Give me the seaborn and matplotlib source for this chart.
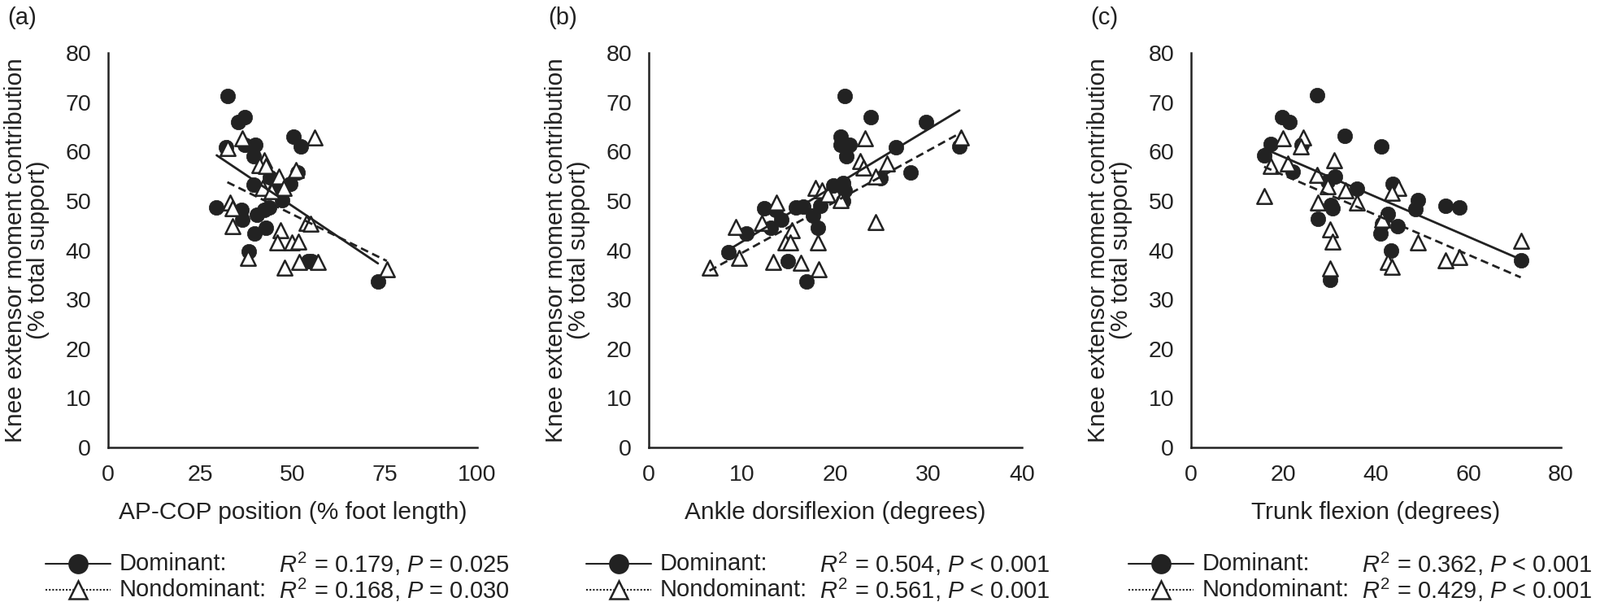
import numpy as np
import pandas as pd
import matplotlib.pyplot as plt
import seaborn as sns
from matplotlib.lines import Line2D

# (a) AP-COP position (% foot length)
cop_dom_x = [32.3, 36.9, 35.3, 32.0, 36.9, 39.9, 39.5, 50.2, 52.3, 51.3, 49.4, 43.9, 39.5, 45.2,
             47.2, 43.7, 42.4, 29.4, 36.2, 36.3, 40.2, 42.8, 39.7, 38.2, 54.2, 55.0, 73.1]
cop_dom_y = [71.3, 67.0, 65.9, 60.9, 61.3, 61.3, 59.0, 63.0, 61.0, 55.8, 53.5, 54.7, 53.2, 52.2,
             50.2, 48.7, 48.2, 48.6, 48.2, 46.2, 47.2, 44.6, 43.3, 39.8, 37.7, 37.7, 33.7]
cop_nd_x = [36.3, 55.9, 32.3, 42.3, 40.9, 42.8, 46.3, 50.9, 41.9, 47.6, 44.3, 33.1, 33.8,
            33.8, 53.7, 54.8, 46.6, 45.9, 49.7, 51.5, 37.8, 47.8, 51.8, 56.8, 75.5]
cop_nd_y = [62.6, 62.9, 60.7, 58.2, 57.3, 57.0, 55.0, 56.2, 52.7, 52.7, 51.9, 49.7, 48.5,
            44.9, 45.5, 45.3, 44.0, 41.6, 41.6, 41.7, 38.5, 36.5, 37.6, 37.6, 36.2]

# (b) ankle dorsiflexion (degrees)
ank_dom_x = [21.0, 23.8, 29.7, 20.6, 20.6, 21.5, 21.2, 26.5, 33.3, 28.1, 24.8, 19.8, 20.8, 21.0,
             20.8, 18.4, 16.6, 15.8, 12.4, 13.6, 14.2, 17.6, 13.1, 18.1, 10.5, 8.5, 14.9, 16.9]
ank_dom_y = [71.3, 67.0, 65.9, 63.0, 61.3, 61.3, 59.0, 60.9, 61.1, 55.8, 54.6, 53.1, 53.6, 52.2,
             49.9, 49.0, 48.9, 48.6, 48.5, 48.2, 46.2, 47.0, 44.5, 44.6, 43.3, 39.6, 37.7, 33.7]
ank_nd_x = [23.2, 33.5, 22.7, 23.0, 25.5, 24.3, 17.9, 18.6, 19.2, 20.6, 13.7, 12.1,
            9.3, 15.3, 24.3, 14.6, 15.2, 18.1, 9.7, 13.3, 16.3, 18.2, 6.5]
ank_nd_y = [62.6, 62.9, 58.1, 56.7, 57.6, 55.0, 52.7, 52.2, 51.3, 50.2, 49.7, 45.5,
            44.7, 44.0, 45.7, 41.6, 41.6, 41.5, 38.5, 37.6, 37.5, 36.1, 36.5]

# (c) trunk flexion (degrees)
trk_dom_x = [27.2, 19.7, 21.2, 33.3, 41.2, 17.3, 23.9, 15.8, 21.9, 31.1, 29.6, 35.8, 43.6, 49.0,
             48.6, 55.0, 58.0, 30.2, 30.6, 27.4, 42.5, 41.4, 44.6, 41.0, 43.2, 30.0, 71.3]
trk_dom_y = [71.5, 67.0, 66.0, 63.2, 61.1, 61.5, 61.3, 59.2, 55.9, 54.9, 53.9, 52.5, 53.5, 50.2,
             48.3, 49.0, 48.6, 49.1, 48.5, 46.3, 47.3, 45.3, 44.9, 43.4, 39.9, 33.9, 37.9]
trk_nd_x = [19.9, 24.2, 23.8, 31.0, 17.3, 21.0, 27.2, 29.6, 33.4, 44.9, 43.4, 35.8,
            27.5, 15.8, 30.0, 30.6, 49.0, 71.3, 58.0, 55.0, 42.5, 43.4, 30.0, 41.3]
trk_nd_y = [62.7, 62.9, 61.0, 58.3, 57.1, 57.6, 55.3, 53.0, 52.2, 52.7, 51.6, 49.7,
            49.7, 50.9, 44.2, 41.7, 41.6, 41.9, 38.6, 37.9, 37.6, 36.6, 36.3, 46.2]

panel_tags = ['(a)', '(b)', '(c)']
x_labels = ['AP-COP position (% foot length)', 'Ankle dorsiflexion (degrees)', 'Trunk flexion (degrees)']
x_ticks = [[0, 25, 50, 75, 100], [0, 10, 20, 30, 40], [0, 20, 40, 60, 80]]
dom_stats = ['$\\mathit{R}^2$ = 0.179, $\\mathit{P}$ = 0.025',
             '$\\mathit{R}^2$ = 0.504, $\\mathit{P}$ < 0.001',
             '$\\mathit{R}^2$ = 0.362, $\\mathit{P}$ < 0.001']
nd_stats = ['$\\mathit{R}^2$ = 0.168, $\\mathit{P}$ = 0.030',
            '$\\mathit{R}^2$ = 0.561, $\\mathit{P}$ < 0.001',
            '$\\mathit{R}^2$ = 0.429, $\\mathit{P}$ < 0.001']
y_label = 'Knee extensor moment contribution\n(% total support)'

sns.set_style('white')
plt.rcParams['font.family'] = ['Liberation Sans', 'DejaVu Sans']
plt.rcParams['mathtext.fontset'] = 'custom'
plt.rcParams['mathtext.rm'] = 'Liberation Sans'
plt.rcParams['mathtext.it'] = 'Liberation Sans:italic'

ink = '#222222'
W, H = 1968, 740
fig = plt.figure(figsize=(W / 100, H / 100), dpi=100)

# axes placement in pixels: (left, right)
ax_px = [(133, 587), (798, 1257), (1465, 1920)]
top_px, bot_px = 65, 550

data = [(cop_dom_x, cop_dom_y, cop_nd_x, cop_nd_y),
        (ank_dom_x, ank_dom_y, ank_nd_x, ank_nd_y),
        (trk_dom_x, trk_dom_y, trk_nd_x, trk_nd_y)]

for i, (dx, dy, nx, ny) in enumerate(data):
    l, r = ax_px[i]
    ax = fig.add_axes([l / W, (H - bot_px) / H, (r - l) / W, (bot_px - top_px) / H])

    sns.scatterplot(x=dx, y=dy, ax=ax, marker='o', color=ink, edgecolor=ink,
                    s=175, linewidth=0.5, zorder=3)
    sns.scatterplot(x=nx, y=ny, ax=ax, marker='^', color='white', edgecolor=ink,
                    s=175, linewidth=1.8, zorder=3)
    sns.regplot(x=dx, y=dy, ax=ax, scatter=False, ci=None, color=ink,
                line_kws=dict(lw=2.0, ls='-', zorder=4))
    sns.regplot(x=nx, y=ny, ax=ax, scatter=False, ci=None, color=ink,
                line_kws=dict(lw=2.0, ls=(0, (3.5, 2)), zorder=4))

    ax.set_xlim(0, x_ticks[i][-1])
    ax.set_ylim(0, 80)
    ax.set_xticks(x_ticks[i])
    ax.set_yticks(range(0, 81, 10))
    ax.tick_params(length=0, pad=15, labelsize=20.5, colors=ink)
    sns.despine(ax=ax)
    for s in ['left', 'bottom']:
        ax.spines[s].set_linewidth(1.8)
        ax.spines[s].set_color(ink)
    ax.set_xlabel(x_labels[i], fontsize=21.5, color=ink, labelpad=14)
    ax.set_ylabel(y_label, fontsize=21.5, color=ink, labelpad=14, linespacing=1.0)

    fig.text((l - 124) / W, 1 - 22 / H, panel_tags[i], fontsize=21, color=ink,
             ha='left', va='center')

    # legend rows
    for row, (ls, mk, mfc, lab, stat) in enumerate([
            ('-', 'o', ink, 'Dominant:', dom_stats[i]),
            ((0, (1, 1)), '^', 'white', 'Nondominant:', nd_stats[i])]):
        yy = 1 - (693 + 32 * row) / H
        fig.add_artist(Line2D([(l - 77) / W, (l + 3) / W], [yy, yy], transform=fig.transFigure,
                              color=ink, lw=1.5, ls=ls))
        fig.add_artist(Line2D([(l - 37) / W], [yy], transform=fig.transFigure, marker=mk,
                              ms=16, mfc=mfc, mec=ink, mew=1.8, ls='none'))
        fig.text((l + 14) / W, yy, lab, fontsize=21, color=ink, ha='left', va='center')
        fig.text((l + 210) / W, yy, stat, fontsize=21, color=ink, ha='left', va='center')

fig.savefig('out.png', dpi=100, facecolor='white')
